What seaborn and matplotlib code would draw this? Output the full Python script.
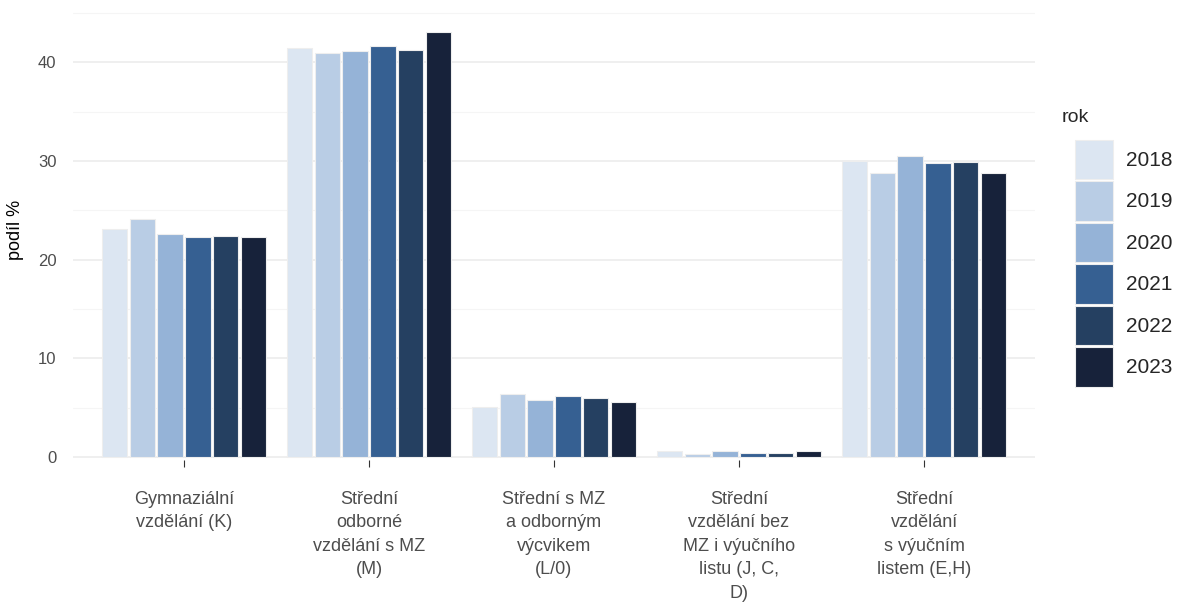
import pandas as pd
import matplotlib.pyplot as plt
import seaborn as sns
from matplotlib.ticker import MultipleLocator

# Data
kategorie = [
    "Gymnaziální\nvzdělání (K)",
    "Střední\nodborné\nvzdělání s MZ\n(M)",
    "Střední s MZ\na odborným\nvýcvikem\n(L/0)",
    "Střední\nvzdělání bez\nMZ i výučního\nlistu (J, C,\nD)",
    "Střední\nvzdělání\ns výučním\nlistem (E,H)",
]
roky = ["2018", "2019", "2020", "2021", "2022", "2023"]
podil_2018 = [23.1, 41.4, 5.1, 0.6, 30.0]
podil_2019 = [24.1, 40.9, 6.4, 0.3, 28.8]
podil_2020 = [22.6, 41.1, 5.8, 0.6, 30.5]
podil_2021 = [22.3, 41.6, 6.2, 0.45, 29.8]
podil_2022 = [22.4, 41.2, 6.0, 0.45, 29.9]
podil_2023 = [22.3, 43.1, 5.6, 0.6, 28.8]
barvy = ["#dce6f2", "#b9cde5", "#95b3d7", "#366092", "#254061", "#17223a"]

rows = []
for rok, hodnoty in zip(roky, [podil_2018, podil_2019, podil_2020,
                                podil_2021, podil_2022, podil_2023]):
    for kat, v in zip(kategorie, hodnoty):
        rows.append({"kategorie": kat, "rok": rok, "podil": v})
df = pd.DataFrame(rows)

sns.set_style("white")
plt.rcParams["font.family"] = ["Liberation Sans", "DejaVu Sans"]

fig = plt.figure(figsize=(11.79, 6.03), dpi=100)
ax = fig.add_axes([73 / 1179, (603 - 460) / 603, (1035 - 73) / 1179, 460 / 603])

sns.barplot(data=df, x="kategorie", y="podil", hue="rok", order=kategorie,
            hue_order=roky, palette=barvy, saturation=1, width=0.9, gap=0.08,
            edgecolor="#eeeeee", linewidth=0.8, ax=ax)

ax.set_xlim(-0.6, 4.6)
ax.set_ylim(-0.3, 46.3)
ax.yaxis.set_major_locator(MultipleLocator(10))
ax.yaxis.set_minor_locator(MultipleLocator(5))
ax.grid(axis="y", which="major", color="#ebebeb", linewidth=1.1)
ax.grid(axis="y", which="minor", color="#f5f5f5", linewidth=0.8)
ax.grid(axis="x", visible=False)
ax.set_axisbelow(True)
for s in ax.spines.values():
    s.set_visible(False)

ax.tick_params(axis="y", which="both", left=False, length=0, labelsize=12,
               labelcolor="#4d4d4d", pad=12)
ax.tick_params(axis="x", bottom=True, direction="out", length=5, width=0.8,
               color="#333333", labelsize=13, labelcolor="#4d4d4d", pad=17)
for lbl in ax.get_xticklabels():
    lbl.set_linespacing(1.5)
    lbl.set_verticalalignment("top")

ax.set_xlabel("")
ax.set_ylabel("podíl %", fontsize=13, color="black", labelpad=10)

leg = ax.legend(loc="upper left", bbox_to_anchor=(1.0416, 0.6957),
                frameon=False, fontsize=15,
                handlelength=1.8, handleheight=2.53, labelspacing=0.1,
                handletextpad=0.65, borderaxespad=0, borderpad=0)
fig.text(1062 / 1179, 1 - 118 / 603, "rok", fontsize=14, va="center", ha="left")

plt.savefig("out.png", dpi=100)
